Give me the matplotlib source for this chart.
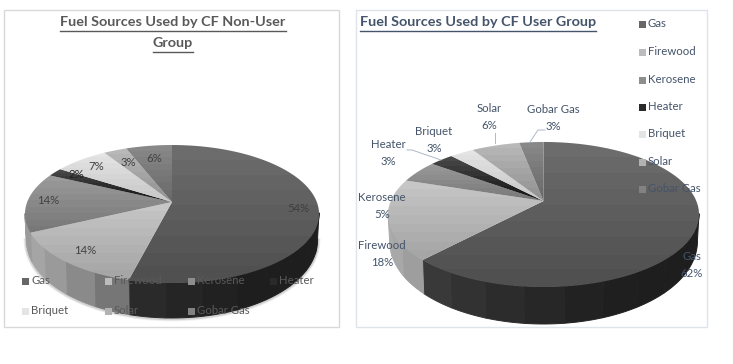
import numpy as np
import matplotlib
matplotlib.use("Agg")
import matplotlib.pyplot as plt
from matplotlib.colors import LinearSegmentedColormap, ListedColormap
from matplotlib.patches import PathPatch, Rectangle
from matplotlib.path import Path
from matplotlib.collections import PolyCollection

categories = ["Gas", "Firewood", "Kerosene", "Heater", "Briquet", "Solar", "Gobar Gas"]
non_user_values = [54, 14, 14, 2, 7, 3, 6]
user_values = [62, 18, 5, 3, 3, 6, 3]

top_shades = [(0x6c, 0x50), (0xc6, 0xa6), (0x9a, 0x78), (0x48, 0x14), (0xe4, 0xc8), (0xb8, 0x92), (0x88, 0x6a)]
wall_shades = [(0x46, 0x1e), (0xac, 0x62), (0x9c, 0x80), (0x44, 0x20), (0xc0, 0xa0), (0xa0, 0x80), (0x80, 0x60)]
legend_shades = ["#676767", "#bcbcbc", "#8e8e8e", "#2a2a2a", "#e4e4e4", "#b2b2b2", "#828282"]

FONT = "Lato"
plt.rcParams["font.family"] = [FONT, "DejaVu Sans"]

fig = plt.figure(figsize=(7.33, 3.64), dpi=100)
ax = fig.add_axes([0, 0, 1, 1])
ax.set_xlim(0, 733)
ax.set_ylim(364, 0)
ax.axis("off")


def rim(frac, g):
    th = 2 * np.pi * np.asarray(frac)
    x, y = np.sin(th), -np.cos(th)
    den = 1 - g["k"] * y
    return g["cx"] + g["r"] * x / den, g["cy"] + g["c"] * y / den, y


def depth(y, g):
    return g["d0"] + (g["d1"] - g["d0"]) * np.clip(y, 0, 1)


def draw_pie(values, g, shadow=False):
    fr = np.cumsum([0] + list(values)) / float(sum(values))
    rx_full = g["r"] / np.sqrt(1 - g["k"] ** 2)
    if shadow:
        t = np.linspace(0, 1, 400)
        x, yy, y = rim(t, g)
        keep = y >= g["k"]
        order = np.argsort(x[keep])
        sx = g["cx"] + (x[keep][order] - g["cx"]) * 0.99
        sy = (yy + depth(y, g))[keep][order]
        for lw, al in [(4, 0.10), (2.5, 0.18)]:
            ax.plot(sx, sy + 0.5, color="#555555", lw=lw, alpha=al, zorder=1.5)
    # walls
    for i in range(len(values)):
        n = max(int((fr[i + 1] - fr[i]) * 30), 1)
        edges = np.linspace(fr[i], fr[i + 1], n + 1)
        polys, cols = [], []
        for a, b in zip(edges[:-1], edges[1:]):
            t = np.linspace(a, b, 14)
            x, yy, y = rim(t, g)
            keep = y >= g["k"] - 0.02
            if keep.sum() < 2:
                continue
            x, yy, y = x[keep], yy[keep], y[keep]
            d = depth(y, g)
            bx = g["cx"] + (x - g["cx"]) * 0.99
            polys.append(np.column_stack([np.r_[x, bx[::-1]], np.r_[yy, (yy + d)[::-1]]]))
            u = (np.mean(x) - g["cx"]) / rx_full
            lo, hi = wall_shades[i]
            w = np.clip((u + 1) / 0.8, 0, 1) if i else np.clip((u + 0.85) / 1.4, 0, 1) ** 0.5
            v = (lo + (hi - lo) * w) / 255
            cols.append((v, v, v))
        if polys:
            ax.add_collection(PolyCollection(polys, facecolors=cols, edgecolors=cols, linewidths=0.7, zorder=2))
    # top faces
    for i in range(len(values)):
        t = np.linspace(fr[i], fr[i + 1], max(int((fr[i + 1] - fr[i]) * 240), 3))
        x, yy, _ = rim(t, g)
        px = np.r_[g["cx"], x, g["cx"]]
        py = np.r_[g["cy"], yy, g["cy"]]
        codes = [Path.MOVETO] + [Path.LINETO] * (len(px) - 2) + [Path.CLOSEPOLY]
        path = Path(np.column_stack([px, py]), codes)
        patch = PathPatch(path, fc="none", ec="none", zorder=3)
        ax.add_patch(patch)
        a, b = top_shades[i]
        cm = LinearSegmentedColormap.from_list("s", [(a / 255,) * 3, (b / 255,) * 3])
        cm = ListedColormap(cm(np.linspace(0, 1, 9)))
        im = ax.imshow(np.linspace(0, 1, 64)[:, None], cmap=cm, aspect="auto", zorder=3,
                       extent=[px.min(), px.max(), py.max(), py.min()], interpolation="nearest")
        im.set_clip_path(patch)
    ax.set_xlim(0, 733)
    ax.set_ylim(364, 0)


left = dict(cx=172, cy=202, r=144.8, k=0.174, c=66.9, d0=24, d1=35)
right = dict(cx=543.5, cy=201, r=152.8, k=0.186, c=70, d0=24, d1=37)

for x0, x1, col in [(4, 339, "#d9d9d9"), (356, 707, "#dfe3ea")]:
    ax.add_patch(Rectangle((x0, 10), x1 - x0, 317, fc="white", ec=col, lw=1.0, zorder=1))

draw_pie(non_user_values, left, shadow=True)
draw_pie(user_values, right)

GREY, BLUE = "#595959", "#44546a"
FS = 8.2


def underlined(x, y, s, color, ha):
    t = ax.text(x, y, s, color=color, ha=ha, va="center", fontsize=10.4, fontweight="bold", zorder=6)
    fig.canvas.draw()
    bb = t.get_window_extent().transformed(ax.transData.inverted())
    ax.plot([bb.x0, bb.x1], [y + 8.5, y + 8.5], color=color, lw=1.0, zorder=6)


underlined(173, 22, "Fuel Sources Used by CF Non-User", GREY, "center")
underlined(173, 43, "Group", GREY, "center")
underlined(360, 22, "Fuel Sources Used by CF User Group", BLUE, "left")

# left data labels
left_pos = [(298, 208), (85, 250), (48, 201), (76, 175), (96, 167), (128, 162), (154, 158)]
left_col = ["#3f3f3f", "#404040", "#404040", "#222222", "#404040", "#404040", "#404040"]
for v, (x, y), c in zip(non_user_values, left_pos, left_col):
    ax.text(x, y, f"{v}%", ha="center", va="center", fontsize=FS, color=c, zorder=6)

# right data labels
right_pos = [(692, 265), (382, 206 + 48), (382, 206), (388, 153), (434, 140), (489, 117), (553, 118)]
for name, v, (x, y) in zip(categories, user_values, right_pos):
    ax.text(x, y, f"{name}\n{v}%", ha="center", va="center", fontsize=FS, color=BLUE,
            linespacing=1.65, zorder=6)
for xs, ys in [([407, 412, 441], [150, 150, 160]), ([494.5, 494.5], [133, 143]), ([530, 538, 545], [142, 130, 130])]:
    ax.plot(xs, ys, color="#aeb8c8", lw=0.7, zorder=5)

# legends
leg_left = [(25, 281), (108, 281), (191, 281), (273, 281), (25, 311), (108, 311), (191, 311)]
leg_right = [(642, 24), (642, 52), (642, 80), (642, 107), (642, 134), (642, 162), (642, 189)]
for pos, col in [(leg_left, GREY), (leg_right, BLUE)]:
    for name, (x, y), sh in zip(categories, pos, legend_shades):
        ax.add_patch(Rectangle((x - 3.5, y - 3.5), 7, 7, fc=sh, ec="none", zorder=6))
        ax.text(x + 6, y - 0.5, name, ha="left", va="center", fontsize=FS, color=col, zorder=6)

fig.savefig("out.png", dpi=100)
